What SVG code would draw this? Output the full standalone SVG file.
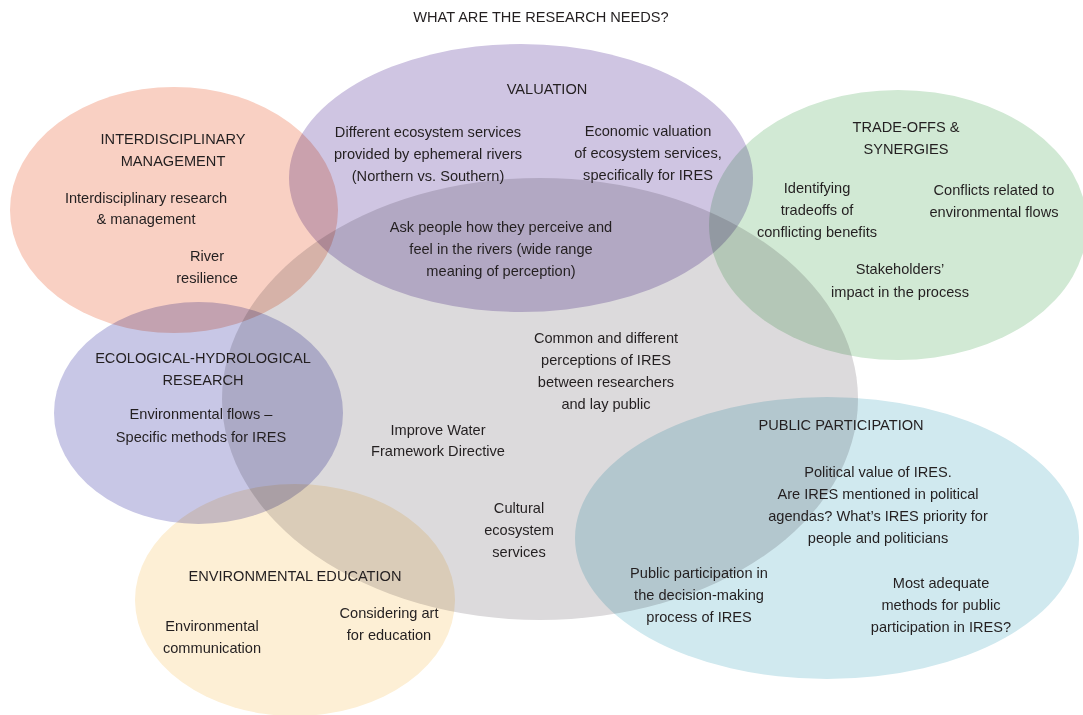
<svg xmlns="http://www.w3.org/2000/svg" width="1083" height="715" viewBox="0 0 1083 715">
<style>
.c{mix-blend-mode:multiply}
text{font-family:"Liberation Sans",Arial,sans-serif;font-size:14.6px;fill:#231f20;text-anchor:middle}
</style>
<rect width="1083" height="715" fill="#ffffff"/>
<g id="central">
<ellipse class="c" cx="540" cy="399" rx="318" ry="221" fill="#dcdadc"/>
</g>
<g id="valuation">
<ellipse class="c" cx="521" cy="178" rx="232" ry="134" fill="#cfc5e2"/>
</g>
<g id="interdisciplinary">
<ellipse class="c" cx="174" cy="210" rx="164" ry="123" fill="#f9d0c3"/>
</g>
<g id="tradeoffs">
<ellipse class="c" cx="898" cy="225" rx="189" ry="135" fill="#d1e9d4"/>
</g>
<g id="ecological">
<ellipse class="c" cx="198.5" cy="413" rx="144.5" ry="111" fill="#c8c7e6"/>
</g>
<g id="education">
<ellipse class="c" cx="295" cy="600" rx="160" ry="116" fill="#fdefd5"/>
</g>
<g id="participation">
<ellipse class="c" cx="827" cy="538" rx="252" ry="141" fill="#d0e9ef"/>
</g>
<g id="connectors"></g>
<g id="labels">
<text x="541" y="22">WHAT ARE THE RESEARCH NEEDS?</text>
<text x="547" y="94">VALUATION</text>
<text x="428" y="137">Different ecosystem services</text>
<text x="428" y="159">provided by ephemeral rivers</text>
<text x="428" y="181">(Northern vs. Southern)</text>
<text x="648" y="136">Economic valuation</text>
<text x="648" y="158">of ecosystem services,</text>
<text x="648" y="180">specifically for IRES</text>
<text x="501" y="232">Ask people how they perceive and</text>
<text x="501" y="254">feel in the rivers (wide range</text>
<text x="501" y="276">meaning of perception)</text>
<text x="173" y="144">INTERDISCIPLINARY</text>
<text x="173" y="166">MANAGEMENT</text>
<text x="146" y="203">Interdisciplinary research</text>
<text x="146" y="224">&amp; management</text>
<text x="207" y="261">River</text>
<text x="207" y="283">resilience</text>
<text x="906" y="132">TRADE-OFFS &amp;</text>
<text x="906" y="154">SYNERGIES</text>
<text x="817" y="193">Identifying</text>
<text x="817" y="215">tradeoffs of</text>
<text x="817" y="237">conflicting benefits</text>
<text x="994" y="195">Conflicts related to</text>
<text x="994" y="217">environmental flows</text>
<text x="900" y="274">Stakeholders’</text>
<text x="900" y="297">impact in the process</text>
<text x="606" y="343">Common and different</text>
<text x="606" y="365">perceptions of IRES</text>
<text x="606" y="387">between researchers</text>
<text x="606" y="409">and lay public</text>
<text x="203" y="363">ECOLOGICAL-HYDROLOGICAL</text>
<text x="203" y="385">RESEARCH</text>
<text x="201" y="419">Environmental flows –</text>
<text x="201" y="442">Specific methods for IRES</text>
<text x="438" y="435">Improve Water</text>
<text x="438" y="456">Framework Directive</text>
<text x="841" y="430">PUBLIC PARTICIPATION</text>
<text x="878" y="477">Political value of IRES.</text>
<text x="878" y="499">Are IRES mentioned in political</text>
<text x="878" y="521">agendas? What’s IRES priority for</text>
<text x="878" y="543">people and politicians</text>
<text x="519" y="513">Cultural</text>
<text x="519" y="535">ecosystem</text>
<text x="519" y="557">services</text>
<text x="295" y="581">ENVIRONMENTAL EDUCATION</text>
<text x="699" y="578">Public participation in</text>
<text x="699" y="600">the decision-making</text>
<text x="699" y="622">process of IRES</text>
<text x="941" y="588">Most adequate</text>
<text x="941" y="610">methods for public</text>
<text x="941" y="632">participation in IRES?</text>
<text x="389" y="618">Considering art</text>
<text x="389" y="640">for education</text>
<text x="212" y="631">Environmental</text>
<text x="212" y="653">communication</text>
</g>
</svg>
